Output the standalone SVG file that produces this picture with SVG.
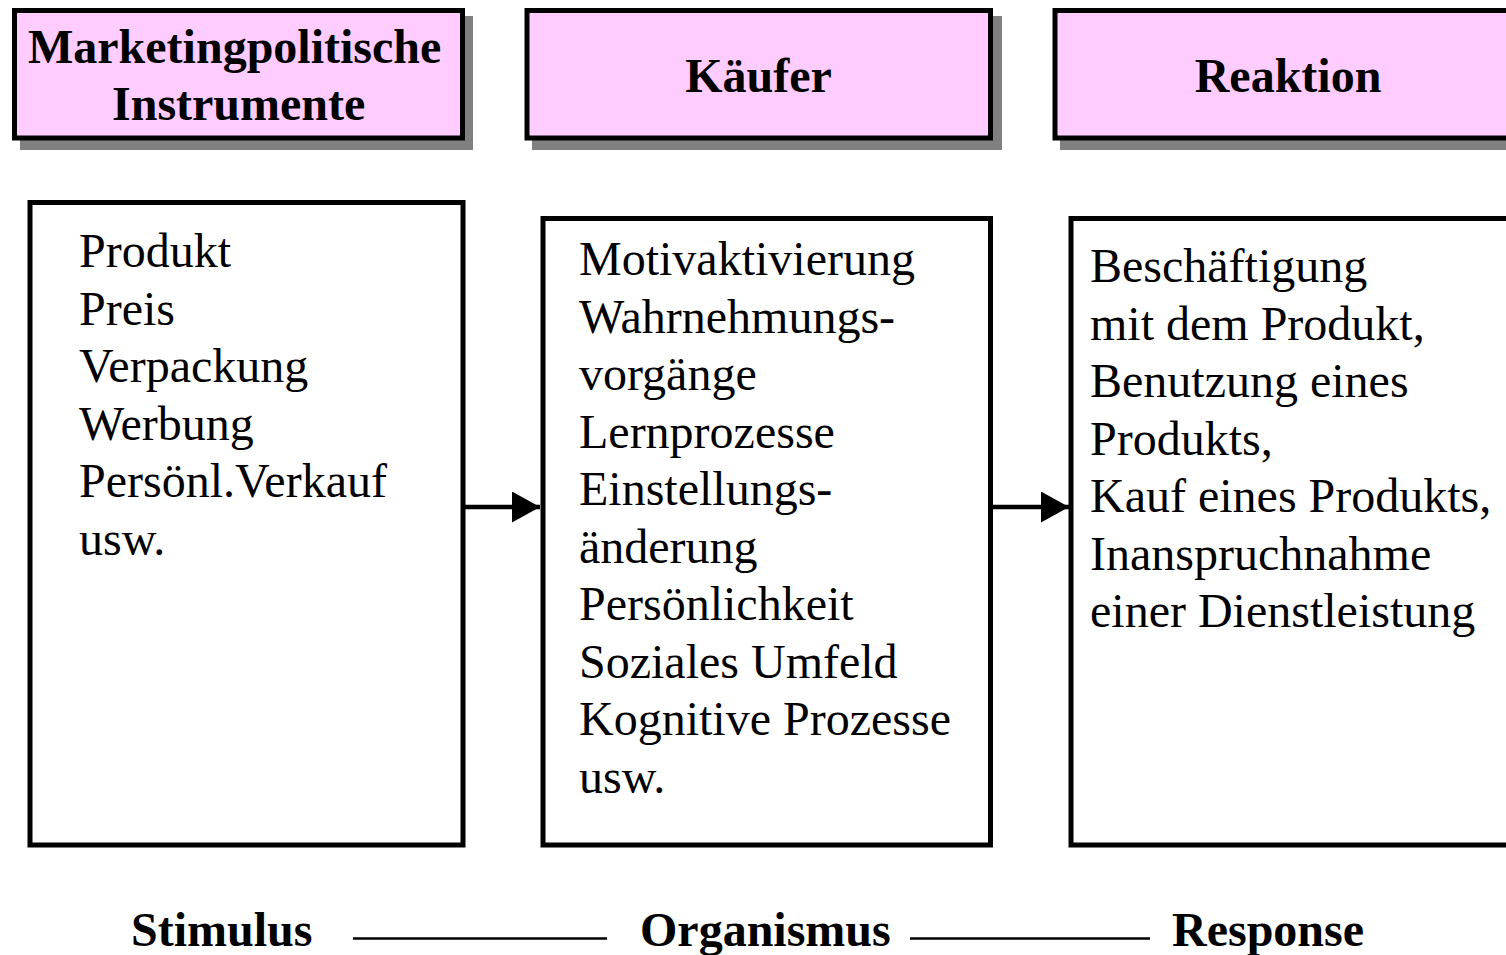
<svg xmlns="http://www.w3.org/2000/svg" width="1506" height="955" viewBox="0 0 1506 955">
  <style>
    .head { fill: #FFCCFF; stroke: #000; stroke-width: 5; }
    .shadow { fill: #808080; stroke: none; }
    .box { fill: #fff; stroke: #000; stroke-width: 5; }
    .title { font-family: "Liberation Serif", "Times New Roman", serif; font-weight: bold; font-size: 48px; fill: #000; }
    .body { font-family: "Liberation Serif", "Times New Roman", serif; font-size: 48px; fill: #000; }
    .link { stroke: #000; stroke-width: 4.5; fill: none; }
    .rule { stroke: #000; stroke-width: 2.5; }
  </style>
  <defs>
    <marker id="arrowhead" markerUnits="userSpaceOnUse" markerWidth="30" markerHeight="32" refX="28" refY="15.5" orient="auto">
      <path d="M0,0 L28,15.5 L0,31 Z" fill="#000"/>
    </marker>
  </defs>
  <rect width="1506" height="955" fill="#fff"/>

  <!-- header boxes with drop shadow -->
  <g id="header-instrumente">
    <rect class="shadow" x="20" y="16" width="453" height="134"/>
    <rect class="head" x="14.5" y="10.5" width="448" height="127.5"/>
    <text class="title" x="28" y="63">Marketingpolitische</text>
    <text class="title" x="112" y="120">Instrumente</text>
  </g>
  <g id="header-kaeufer">
    <rect class="shadow" x="532" y="16" width="470" height="134"/>
    <rect class="head" x="527" y="10.5" width="463.5" height="127.5"/>
    <text class="title" x="758.5" y="92" text-anchor="middle">Käufer</text>
  </g>
  <g id="header-reaktion">
    <rect class="shadow" x="1060" y="16" width="460" height="134"/>
    <rect class="head" x="1055" y="10.5" width="470" height="127.5"/>
    <text class="title" x="1288" y="92" text-anchor="middle">Reaktion</text>
  </g>

  <!-- content boxes -->
  <g id="stimulus-box">
    <rect class="box" x="30" y="202.5" width="433" height="642.5"/>
    <text class="body" x="79" y="267">
      <tspan x="79" y="267">Produkt</tspan>
      <tspan x="79" y="324.6">Preis</tspan>
      <tspan x="79" y="382.2">Verpackung</tspan>
      <tspan x="79" y="439.8">Werbung</tspan>
      <tspan x="79" y="497.4">Persönl.Verkauf</tspan>
      <tspan x="79" y="555">usw.</tspan>
    </text>
  </g>
  <g id="organismus-box">
    <rect class="box" x="543" y="218.5" width="447.5" height="626.5"/>
    <text class="body" x="579" y="275">
      <tspan x="579" y="275">Motivaktivierung</tspan>
      <tspan x="579" y="332.5">Wahrnehmungs-</tspan>
      <tspan x="579" y="390">vorgänge</tspan>
      <tspan x="579" y="447.5">Lernprozesse</tspan>
      <tspan x="579" y="505">Einstellungs-</tspan>
      <tspan x="579" y="562.5">änderung</tspan>
      <tspan x="579" y="620">Persönlichkeit</tspan>
      <tspan x="579" y="677.5">Soziales Umfeld</tspan>
      <tspan x="579" y="735">Kognitive Prozesse</tspan>
      <tspan x="579" y="792.5">usw.</tspan>
    </text>
  </g>
  <g id="response-box">
    <rect class="box" x="1071" y="218.5" width="460" height="626.5"/>
    <text class="body" x="1090" y="282">
      <tspan x="1090" y="282">Beschäftigung</tspan>
      <tspan x="1090" y="339.5">mit dem Produkt,</tspan>
      <tspan x="1090" y="397">Benutzung eines</tspan>
      <tspan x="1090" y="454.5">Produkts,</tspan>
      <tspan x="1090" y="512">Kauf eines Produkts,</tspan>
      <tspan x="1090" y="569.5">Inanspruchnahme</tspan>
      <tspan x="1090" y="627">einer Dienstleistung</tspan>
    </text>
  </g>

  <!-- connectors -->
  <g id="connectors">
    <line class="link" x1="465" y1="507" x2="540" y2="507" marker-end="url(#arrowhead)"/>
    <line class="link" x1="993" y1="507" x2="1069" y2="507" marker-end="url(#arrowhead)"/>
  </g>

  <!-- S-O-R caption -->
  <g id="sor-caption">
    <text class="title" x="131" y="946">Stimulus</text>
    <line class="rule" x1="353" y1="938.5" x2="607" y2="938.5"/>
    <text class="title" x="640" y="946">Organismus</text>
    <line class="rule" x1="910" y1="938.5" x2="1150" y2="938.5"/>
    <text class="title" x="1172" y="946">Response</text>
  </g>
</svg>
